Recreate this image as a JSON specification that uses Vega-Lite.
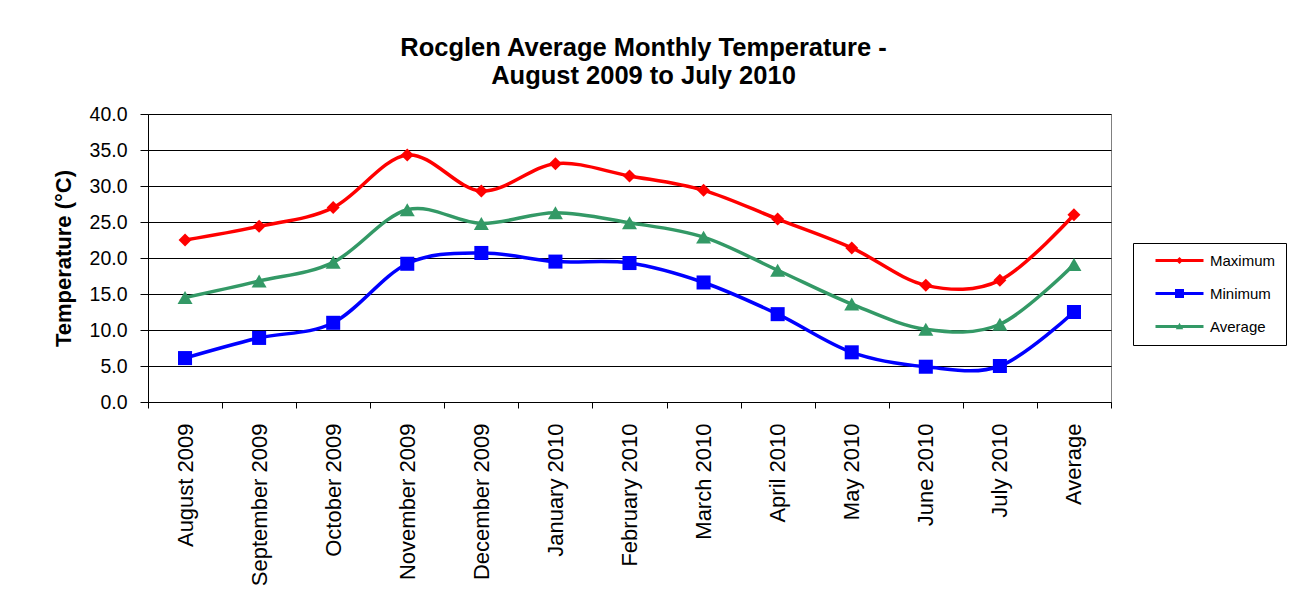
{
  "$schema": "https://vega.github.io/schema/vega-lite/v6.json",
  "width": 963,
  "height": 288,
  "autosize": {"type": "none"},
  "padding": {"left": 148, "top": 114, "right": 180, "bottom": 209},
  "background": "white",
  "title": {
    "text": ["Rocglen Average Monthly Temperature -", "August 2009 to July 2010"],
    "font": "Liberation Sans",
    "fontSize": 25.5,
    "fontWeight": "bold",
    "color": "black",
    "anchor": "middle",
    "dx": 14,
    "lineHeight": 28,
    "offset": 15
  },
  "config": {
    "view": {"stroke": "#808080", "strokeWidth": 1},
    "font": "Liberation Sans"
  },
  "data": {
    "values": [
      {"month": "August 2009", "series": "Maximum", "value": 22.5},
      {"month": "September 2009", "series": "Maximum", "value": 24.4},
      {"month": "October 2009", "series": "Maximum", "value": 27.0},
      {"month": "November 2009", "series": "Maximum", "value": 34.3},
      {"month": "December 2009", "series": "Maximum", "value": 29.3},
      {"month": "January 2010", "series": "Maximum", "value": 33.1},
      {"month": "February 2010", "series": "Maximum", "value": 31.4},
      {"month": "March 2010", "series": "Maximum", "value": 29.4},
      {"month": "April 2010", "series": "Maximum", "value": 25.4},
      {"month": "May 2010", "series": "Maximum", "value": 21.4},
      {"month": "June 2010", "series": "Maximum", "value": 16.2},
      {"month": "July 2010", "series": "Maximum", "value": 16.9},
      {"month": "Average", "series": "Maximum", "value": 26.0},
      {"month": "August 2009", "series": "Minimum", "value": 6.1},
      {"month": "September 2009", "series": "Minimum", "value": 8.9},
      {"month": "October 2009", "series": "Minimum", "value": 11.0},
      {"month": "November 2009", "series": "Minimum", "value": 19.2},
      {"month": "December 2009", "series": "Minimum", "value": 20.7},
      {"month": "January 2010", "series": "Minimum", "value": 19.5},
      {"month": "February 2010", "series": "Minimum", "value": 19.3},
      {"month": "March 2010", "series": "Minimum", "value": 16.6},
      {"month": "April 2010", "series": "Minimum", "value": 12.2},
      {"month": "May 2010", "series": "Minimum", "value": 6.9},
      {"month": "June 2010", "series": "Minimum", "value": 4.9},
      {"month": "July 2010", "series": "Minimum", "value": 5.0},
      {"month": "Average", "series": "Minimum", "value": 12.5},
      {"month": "August 2009", "series": "Average", "value": 14.5},
      {"month": "September 2009", "series": "Average", "value": 16.8},
      {"month": "October 2009", "series": "Average", "value": 19.4},
      {"month": "November 2009", "series": "Average", "value": 26.7},
      {"month": "December 2009", "series": "Average", "value": 24.8},
      {"month": "January 2010", "series": "Average", "value": 26.3},
      {"month": "February 2010", "series": "Average", "value": 24.9},
      {"month": "March 2010", "series": "Average", "value": 22.9},
      {"month": "April 2010", "series": "Average", "value": 18.3},
      {"month": "May 2010", "series": "Average", "value": 13.6},
      {"month": "June 2010", "series": "Average", "value": 10.1},
      {"month": "July 2010", "series": "Average", "value": 10.8},
      {"month": "Average", "series": "Average", "value": 19.1}
    ]
  },
  "encoding": {
    "x": {
      "field": "month",
      "type": "ordinal",
      "sort": ["August 2009", "September 2009", "October 2009", "November 2009", "December 2009", "January 2010", "February 2010", "March 2010", "April 2010", "May 2010", "June 2010", "July 2010", "Average"],
      "scale": {"type": "band", "paddingInner": 0, "paddingOuter": 0},
      "bandPosition": 0.5,
      "axis": {
        "title": null,
        "labelAngle": -90,
        "labelFontSize": 22,
        "labelColor": "black",
        "labelPadding": 15,
        "domainColor": "black",
        "tickColor": "black",
        "tickSize": 6,
        "tickBand": "extent",
        "grid": false,
        "labelOverlap": false
      }
    },
    "y": {
      "field": "value",
      "type": "quantitative",
      "scale": {"domain": [0, 40], "nice": false},
      "axis": {
        "title": "Temperature (°C)",
        "titleFontSize": 22,
        "titleFontWeight": "bold",
        "titleColor": "black",
        "titlePadding": 14,
        "values": [0, 5, 10, 15, 20, 25, 30, 35, 40],
        "format": ".1f",
        "labelFontSize": 19.5,
        "labelColor": "black",
        "labelPadding": 13,
        "tickSize": 8,
        "tickColor": "black",
        "domainColor": "black",
        "grid": true,
        "gridColor": "black",
        "gridWidth": 1,
        "gridOpacity": 1
      }
    }
  },
  "layer": [
    {
      "mark": {"type": "line", "interpolate": "cardinal", "strokeWidth": 3.5},
      "encoding": {
        "color": {
          "field": "series",
          "type": "nominal",
          "scale": {"domain": ["Maximum", "Minimum", "Average"], "range": ["#FF0000", "#0000FF", "#339966"]},
          "legend": null
        }
      }
    },
    {
      "mark": {"type": "point", "filled": true, "opacity": 1},
      "encoding": {
        "color": {
          "field": "series",
          "type": "nominal",
          "scale": {"domain": ["Maximum", "Minimum", "Average"], "range": ["#FF0000", "#0000FF", "#339966"]},
          "legend": null
        },
        "shape": {
          "field": "series",
          "type": "nominal",
          "scale": {"domain": ["Maximum", "Minimum", "Average"], "range": ["diamond", "square", "triangle-up"]},
          "legend": null
        },
        "size": {
          "field": "series",
          "type": "ordinal",
          "scale": {"domain": ["Maximum", "Minimum", "Average"], "range": [169, 225, 225]},
          "legend": null
        }
      }
    },
    {
      "transform": [{"filter": "datum.value < -100"}],
      "mark": {"type": "point", "filled": true, "opacity": 1, "size": 144},
      "encoding": {
        "color": {
          "field": "series",
          "type": "nominal",
          "scale": {"domain": ["Maximum", "Minimum", "Average"], "range": ["#FF0000", "#0000FF", "#339966"]},
          "legend": {
            "title": null,
            "orient": "none",
            "legendX": 985,
            "legendY": 129,
            "strokeColor": "black",
            "fillColor": "white",
            "padding": 10,
            "symbolSize": 144,
            "labelFontSize": 15,
            "labelColor": "black",
            "labelOffset": 23,
            "rowPadding": 17,
            "symbolOffset": 29
          }
        },
        "shape": {
          "field": "series",
          "type": "nominal",
          "scale": {
            "domain": ["Maximum", "Minimum", "Average"],
            "range": [
              "M-4,-0.25L4,-0.25L4,0.25L-4,0.25ZM0,-0.6L0.6,0L0,0.6L-0.6,0Z",
              "M-4,-0.25L4,-0.25L4,0.25L-4,0.25ZM-0.75,-0.75L0.75,-0.75L0.75,0.75L-0.75,0.75Z",
              "M-4,-0.25L4,-0.25L4,0.25L-4,0.25ZM0,-0.62L0.62,0.45L-0.62,0.45Z"
            ]
          },
          "legend": {
            "title": null,
            "orient": "none",
            "legendX": 985,
            "legendY": 129,
            "strokeColor": "black",
            "fillColor": "white",
            "padding": 10,
            "symbolSize": 144,
            "labelFontSize": 15,
            "labelColor": "black",
            "labelOffset": 23,
            "rowPadding": 17,
            "symbolOffset": 29
          }
        }
      }
    }
  ],
  "resolve": {
    "scale": {"shape": "independent", "size": "independent", "color": "independent"},
    "legend": {"shape": "independent", "color": "independent"}
  }
}
